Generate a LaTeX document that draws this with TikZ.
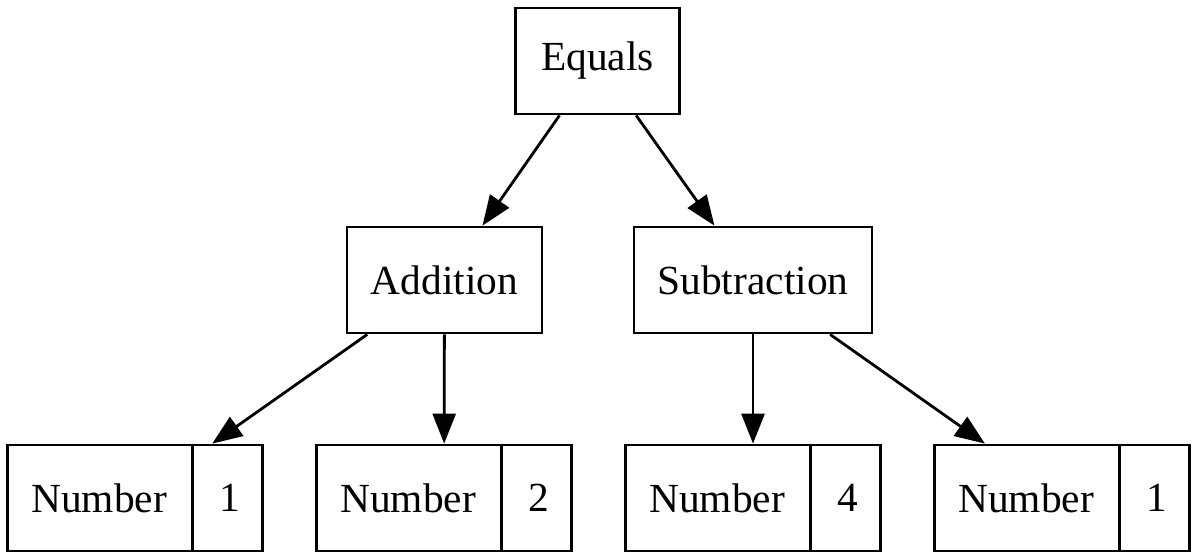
\documentclass[tikz,border=0pt]{standalone}
\usepackage{fontspec}
\setmainfont{Liberation Serif}
\usetikzlibrary{arrows.meta}
\begin{document}
\begin{tikzpicture}[x=0.5pt,y=-0.5pt,
  box/.style={draw, line width=1.4pt, minimum height=53pt, inner sep=0pt, font=\fontsize{20.7}{24}\selectfont},
  part/.style={inner sep=0pt, font=\fontsize{20.7}{24}\selectfont},
  arr/.style={line width=1.4pt, -{Triangle[length=15pt,width=11.5pt]}, shorten >=0pt}]
\useasboundingbox (0,0) rectangle (1192,552);
\node[box, minimum width=82pt] (eq) at (597.5,61) {Equals};
\node[box, minimum width=97.5pt] (add) at (444.5,280) {Addition};
\node[box, minimum width=119pt] (sub) at (753,280) {Subtraction};
\foreach \n/\cx/\v in {n1/135/1, n2/444/2, n3/753/4, n4/1062/1}{
  \node[box, minimum width=127.5pt] (\n) at (\cx,498) {};
  \draw[line width=1.4pt] ([xshift=93pt]\n.north west) -- ([xshift=93pt]\n.south west);
  \node[part] (\n l) at ([xshift=46.5pt]\n.west) {Number};
  \node[part] (\n r) at ([xshift=-17.25pt]\n.east) {\v};
}
\draw[arr] (eq) -- (add);
\draw[arr] (eq) -- (sub);
\draw[arr] (add) -- (n1);
\draw[arr] (add) -- (n2);
\draw[arr] (sub) -- (n3);
\draw[arr] (sub) -- (n4);
\end{tikzpicture}
\end{document}
